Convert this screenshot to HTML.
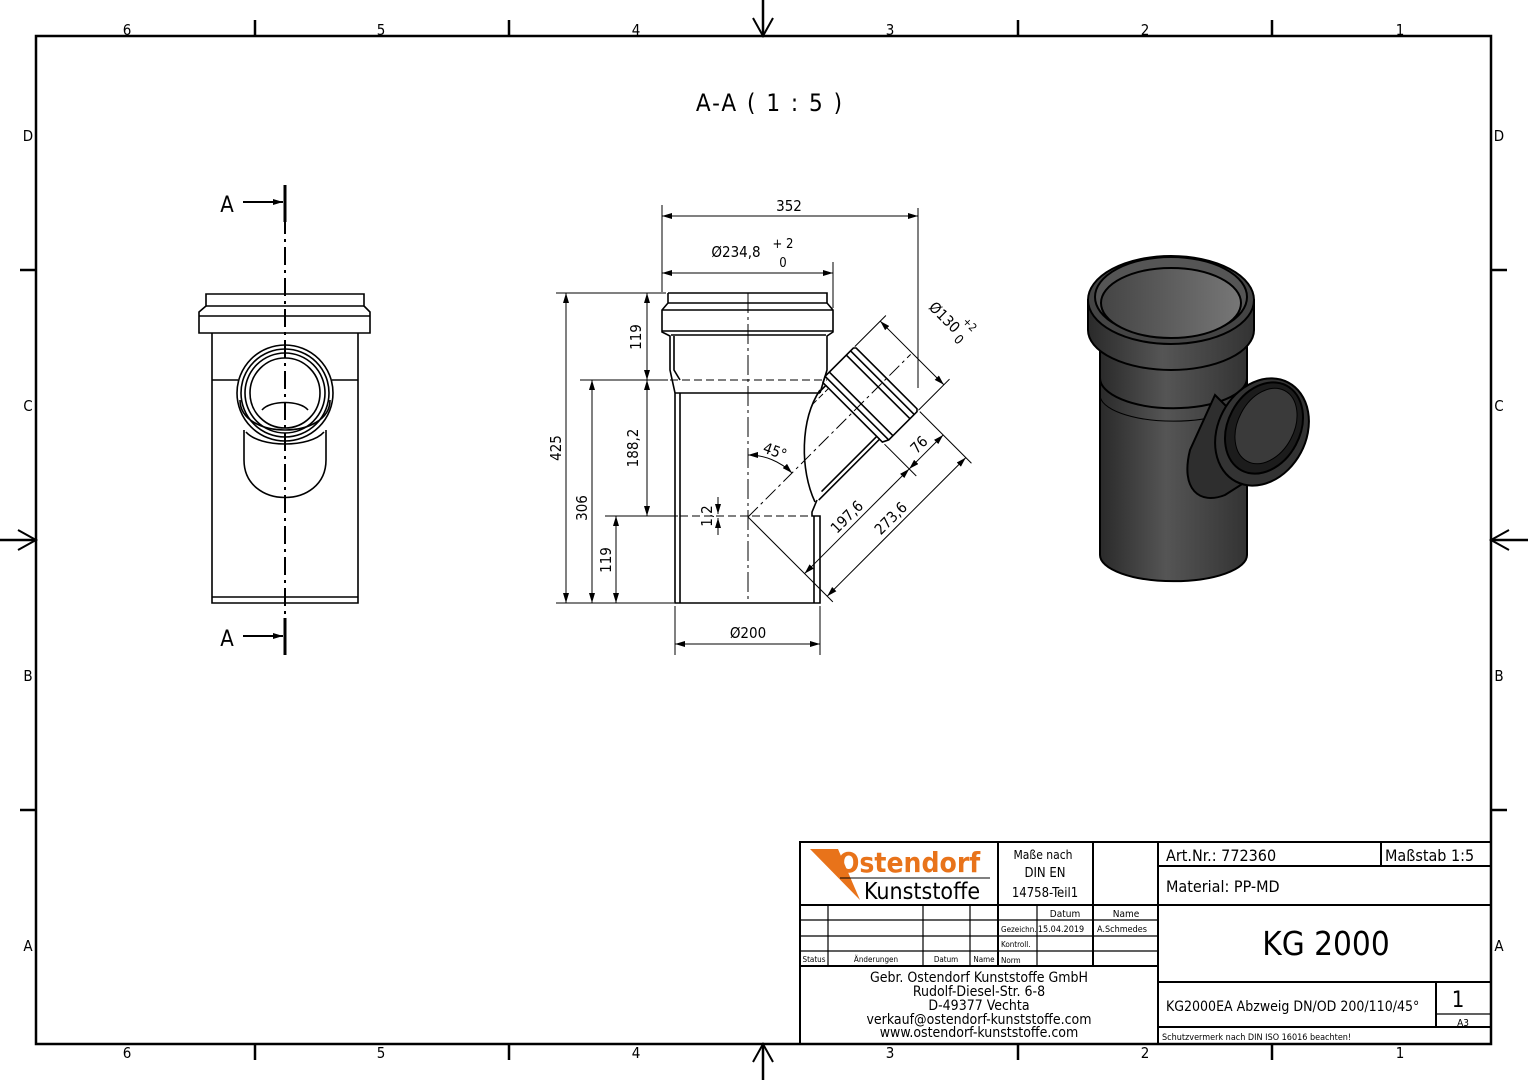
<!DOCTYPE html>
<html><head><meta charset="utf-8"><style>
html,body{margin:0;padding:0;background:#fff}
svg{display:block}
text{font-family:"DejaVu Sans Condensed","Liberation Sans Narrow","Liberation Sans",sans-serif;fill:#000}
</style></head><body>
<svg width="1528" height="1080" viewBox="0 0 1528 1080" xmlns="http://www.w3.org/2000/svg">
<defs>
<linearGradient id="g1" x1="0" x2="1" y1="0" y2="0">
<stop offset="0" stop-color="#2a2a2a"/><stop offset="0.45" stop-color="#555"/><stop offset="1" stop-color="#333"/>
</linearGradient>
<linearGradient id="g2" x1="0" x2="1" y1="0" y2="0">
<stop offset="0" stop-color="#444"/><stop offset="1" stop-color="#777"/>
</linearGradient>
<marker id="ar" viewBox="0 0 10 6" refX="10" refY="3" markerWidth="10" markerHeight="6" orient="auto-start-reverse" markerUnits="userSpaceOnUse">
<path d="M0,0 L10,3 L0,6 z" fill="#000"/></marker>
</defs>

<!-- frame -->
<rect x="36" y="36" width="1455" height="1008" fill="none" stroke="#000" stroke-width="2.5"/>
<g stroke="#000" stroke-width="2.5">
<line x1="255" y1="20" x2="255" y2="36"/><line x1="509" y1="20" x2="509" y2="36"/><line x1="1018" y1="20" x2="1018" y2="36"/><line x1="1272" y1="20" x2="1272" y2="36"/>
<line x1="255" y1="1044" x2="255" y2="1060"/><line x1="509" y1="1044" x2="509" y2="1060"/><line x1="1018" y1="1044" x2="1018" y2="1060"/><line x1="1272" y1="1044" x2="1272" y2="1060"/>
<line x1="20" y1="270" x2="36" y2="270"/><line x1="20" y1="810" x2="36" y2="810"/>
<line x1="1491" y1="270" x2="1507" y2="270"/><line x1="1491" y1="810" x2="1507" y2="810"/>
<line x1="763" y1="0" x2="763" y2="36"/><line x1="763" y1="1044" x2="763" y2="1080"/>
<line x1="0" y1="540" x2="36" y2="540"/><line x1="1491" y1="540" x2="1528" y2="540"/>
</g>
<g fill="none" stroke="#000" stroke-width="2">
<path d="M753,18 L763,36 L773,18"/><path d="M753,1062 L763,1044 L773,1062"/>
<path d="M18,530 L36,540 L18,550"/><path d="M1509,530 L1491,540 L1509,550"/>
</g>
<g font-size="15" text-anchor="middle">
<text x="127" y="35">6</text><text x="381" y="35">5</text><text x="636" y="35">4</text><text x="890" y="35">3</text><text x="1145" y="35">2</text><text x="1400" y="35">1</text>
<text x="127" y="1058">6</text><text x="381" y="1058">5</text><text x="636" y="1058">4</text><text x="890" y="1058">3</text><text x="1145" y="1058">2</text><text x="1400" y="1058">1</text>
<text x="28" y="141">D</text><text x="28" y="411">C</text><text x="28" y="681">B</text><text x="28" y="951">A</text>
<text x="1499" y="141">D</text><text x="1499" y="411">C</text><text x="1499" y="681">B</text><text x="1499" y="951">A</text>
</g>

<text x="770" y="111" font-size="24" text-anchor="middle" letter-spacing="2">A-A ( 1 : 5 )</text>

<!-- left view -->
<g fill="none" stroke="#000" stroke-width="1.6">
<path d="M212,333 L212,603 L358,603 L358,333"/>
<line x1="212" y1="597" x2="358" y2="597"/>
<path d="M206,294 L364,294 L364,306 L370,312 L370,333 L199,333 L199,312 L206,306 Z"/>
<line x1="199" y1="316" x2="370" y2="316"/><line x1="206" y1="306" x2="364" y2="306"/>
<line x1="212" y1="380" x2="238" y2="380"/><line x1="332" y1="380" x2="358" y2="380"/>
<circle cx="285" cy="393" r="48"/><circle cx="285" cy="393" r="44"/><circle cx="285" cy="393" r="40"/>
<circle cx="285" cy="393" r="35"/>
<path d="M240,400 C240,440 330,440 330,400"/>
<path d="M244,430 L244,460 C244,510 326,510 326,460 L326,430"/>
<path d="M246,432 C260,448 310,448 324,432"/>
<path d="M262,410 C270,400 300,400 308,410"/>
</g>
<line x1="285" y1="185" x2="285" y2="655" stroke="#000" stroke-width="2" stroke-dasharray="18,5,3,5"/>
<line x1="285" y1="185" x2="285" y2="222" stroke="#000" stroke-width="3"/>
<line x1="285" y1="618" x2="285" y2="655" stroke="#000" stroke-width="3"/>
<line x1="243" y1="202" x2="283" y2="202" stroke="#000" stroke-width="2" marker-end="url(#ar)"/>
<line x1="243" y1="636" x2="283" y2="636" stroke="#000" stroke-width="2" marker-end="url(#ar)"/>
<text x="227" y="212" font-size="22" text-anchor="middle">A</text>
<text x="227" y="646" font-size="22" text-anchor="middle">A</text>

<!-- section view -->
<g fill="none" stroke="#000" stroke-width="1.6">
<path d="M668,293 L827,293 L827,303 L833,310 L833,332 L827,336 L827,370 L820,393"/>
<path d="M817,500 L812,512 L812,516 L820,516 L820,603 L675,603 L675,393 L670,370 L670,336 L662,332 L662,310 L668,303 L668,293"/>
<line x1="662" y1="310" x2="833" y2="310"/><line x1="662" y1="331" x2="833" y2="331"/>
<line x1="668" y1="303" x2="827" y2="303"/>
<line x1="671" y1="335" x2="826" y2="335"/>
<line x1="675" y1="393" x2="820" y2="393"/>
<path d="M680,393 L680,603 M814,516 L814,603 M680,380 L674,370 L674,336"/>
<path d="M820,390 C800,420 800,470 815,502"/>
</g>
<g fill="none" stroke="#000" stroke-width="1" stroke-dasharray="8,4">
<line x1="670" y1="380" x2="827" y2="380"/>
<line x1="680" y1="516" x2="814" y2="516"/>
</g>
<line x1="748" y1="293" x2="748" y2="603" stroke="#000" stroke-width="1" stroke-dasharray="20,4,3,4"/>
<!-- branch rotated -->
<g transform="translate(748,517) rotate(-45)">
<g fill="none" stroke="#000" stroke-width="1.6">
<path d="M140,-38 L148,-38 L148,-42 L154,-45 L194,-45 L196,-43 L196,43 L194,45 L154,45 L148,42 L148,38 L62,38"/>
<line x1="154" y1="-45" x2="154" y2="45"/><line x1="160" y1="-45" x2="160" y2="45"/>
<line x1="184" y1="-45" x2="184" y2="45"/><line x1="190" y1="-45" x2="190" y2="45"/>
<line x1="148" y1="-38" x2="148" y2="38"/>
<line x1="70" y1="34" x2="148" y2="34"/>
</g>
<line x1="0" y1="0" x2="230" y2="0" stroke="#000" stroke-width="1" stroke-dasharray="14,4,3,4"/>
<line x1="125" y1="-34" x2="148" y2="-34" stroke="#000" stroke-width="1" stroke-dasharray="6,3"/>
<!-- dims -->
<g stroke="#000" stroke-width="1" fill="none">
<line x1="196" y1="47" x2="196" y2="120"/>
<line x1="148" y1="45" x2="148" y2="90"/>
<line x1="0" y1="0" x2="0" y2="120"/>
<line x1="0" y1="80" x2="148" y2="80" marker-start="url(#ar)" marker-end="url(#ar)"/>
<line x1="148" y1="80" x2="196" y2="80" marker-start="url(#ar)" marker-end="url(#ar)"/>
<line x1="0" y1="112" x2="196" y2="112" marker-start="url(#ar)" marker-end="url(#ar)"/>
<line x1="196" y1="-45" x2="240" y2="-45"/><line x1="196" y1="45" x2="240" y2="45"/>
<line x1="232" y1="-45" x2="232" y2="45" marker-start="url(#ar)" marker-end="url(#ar)"/>
</g>
<text x="70" y="75" font-size="15" text-anchor="middle">197,6</text>
<text x="172" y="75" font-size="15" text-anchor="middle">76</text>
<text x="100" y="107" font-size="15" text-anchor="middle">273,6</text>
</g>
<text transform="translate(928,308) rotate(45)" font-size="15">Ø130</text>
<text transform="translate(962,322) rotate(45)" font-size="11">+2</text>
<text transform="translate(953,340) rotate(45)" font-size="13">0</text>
<!-- 45 angle -->
<path d="M748,455 A62,62 0 0 1 792,473" fill="none" stroke="#000" stroke-width="1" marker-start="url(#ar)" marker-end="url(#ar)"/>
<text transform="translate(762,452) rotate(20)" font-size="15">45°</text>
<!-- linear dims -->
<g stroke="#000" stroke-width="1" fill="none">
<line x1="662" y1="205" x2="662" y2="292"/><line x1="918" y1="208" x2="918" y2="388"/>
<line x1="662" y1="216" x2="918" y2="216" marker-start="url(#ar)" marker-end="url(#ar)"/>
<line x1="833" y1="262" x2="833" y2="308"/>
<line x1="662" y1="273" x2="833" y2="273" marker-start="url(#ar)" marker-end="url(#ar)"/>
<line x1="675" y1="606" x2="675" y2="655"/><line x1="820" y1="606" x2="820" y2="655"/>
<line x1="675" y1="644" x2="820" y2="644" marker-start="url(#ar)" marker-end="url(#ar)"/>
<line x1="556" y1="293" x2="666" y2="293"/><line x1="556" y1="603" x2="674" y2="603"/>
<line x1="580" y1="380" x2="668" y2="380"/><line x1="605" y1="516" x2="678" y2="516"/>
<line x1="566" y1="293" x2="566" y2="603" marker-start="url(#ar)" marker-end="url(#ar)"/>
<line x1="592" y1="380" x2="592" y2="603" marker-start="url(#ar)" marker-end="url(#ar)"/>
<line x1="616" y1="516" x2="616" y2="603" marker-start="url(#ar)" marker-end="url(#ar)"/>
<line x1="647" y1="293" x2="647" y2="380" marker-start="url(#ar)" marker-end="url(#ar)"/>
<line x1="647" y1="380" x2="647" y2="516" marker-start="url(#ar)" marker-end="url(#ar)"/>
<line x1="718" y1="497" x2="718" y2="514" marker-end="url(#ar)"/>
<line x1="718" y1="535" x2="718" y2="518" marker-end="url(#ar)"/>
</g>
<g font-size="15" text-anchor="middle">
<text x="789" y="211">352</text>
<text x="736" y="257">Ø234,8</text><text x="783" y="248" font-size="13">+ 2</text><text x="783" y="267" font-size="13">0</text>
<text x="748" y="638">Ø200</text>
<text transform="translate(561,448) rotate(-90)">425</text>
<text transform="translate(587,508) rotate(-90)">306</text>
<text transform="translate(611,560) rotate(-90)">119</text>
<text transform="translate(641,337) rotate(-90)">119</text>
<text transform="translate(638,448) rotate(-90)">188,2</text>
<text transform="translate(712,516) rotate(-90)">1,2</text>
</g>

<!-- 3D render -->
<g stroke="#000" stroke-width="2">
<path d="M1100,335 L1100,555 A73,26 0 0 0 1247,555 L1247,335 Z" fill="url(#g1)"/>
<path d="M1100,345 L1100,378 A73,30 0 0 0 1247,378 L1247,345 Z" fill="url(#g1)"/>
<path d="M1088,300 L1088,330 A83,40 0 0 0 1254,330 L1254,300 Z" fill="url(#g1)"/>
<ellipse cx="1171" cy="300" rx="83" ry="44" fill="#444"/>
<ellipse cx="1171" cy="297" rx="76" ry="40" fill="#555"/>
<ellipse cx="1171" cy="303" rx="70" ry="35" fill="url(#g2)"/>
<path d="M1100,395 A73,26 0 0 0 1247,395" fill="none" stroke-width="1"/>
<path d="M1215,395 L1190,450 C1180,490 1200,505 1225,495 L1280,460 Z" fill="#2e2e2e"/>
<ellipse cx="1262" cy="432" rx="44" ry="56" transform="rotate(28 1262 432)" fill="#333"/>
<ellipse cx="1264" cy="428" rx="36" ry="48" transform="rotate(28 1264 428)" fill="#1c1c1c"/>
<ellipse cx="1266" cy="426" rx="28" ry="40" transform="rotate(28 1266 426)" fill="#3a3a3a" stroke-width="1"/>
</g>

<!-- title block -->
<g fill="none" stroke="#000" stroke-width="2">
<rect x="800" y="842" width="691" height="202"/>
<line x1="1158" y1="842" x2="1158" y2="1044"/>
<line x1="998" y1="842" x2="998" y2="966"/><line x1="1093" y1="842" x2="1093" y2="966"/>
<line x1="800" y1="905" x2="1158" y2="905"/>
<line x1="800" y1="966" x2="1158" y2="966"/>
<line x1="1158" y1="866" x2="1491" y2="866"/><line x1="1381" y1="842" x2="1381" y2="866"/>
<line x1="1158" y1="905" x2="1491" y2="905"/>
<line x1="1158" y1="982" x2="1491" y2="982"/>
<line x1="1158" y1="1027" x2="1491" y2="1027"/>
<line x1="1436" y1="982" x2="1436" y2="1027"/>
</g>
<g fill="none" stroke="#000" stroke-width="1.2">
<line x1="800" y1="920" x2="1158" y2="920"/><line x1="800" y1="936" x2="1158" y2="936"/><line x1="800" y1="951" x2="1158" y2="951"/>
<line x1="828" y1="905" x2="828" y2="966"/><line x1="923" y1="905" x2="923" y2="966"/><line x1="970" y1="905" x2="970" y2="966"/>
<line x1="1037" y1="905" x2="1037" y2="966"/>
<line x1="1436" y1="1014" x2="1491" y2="1014"/>
</g>
<path d="M810,849 L838,849 L860,900 Z" fill="#e8731a"/>
<text x="838" y="872" font-size="28" font-weight="bold" style="fill:#e8731a" font-family="Liberation Sans">Ostendorf</text>
<line x1="840" y1="878" x2="990" y2="878" stroke="#000" stroke-width="1"/>
<text x="864" y="899" font-size="23" font-family="Liberation Sans">Kunststoffe</text>
<g text-anchor="middle">
<text x="1043" y="859" font-size="12">Maße nach</text>
<text x="1045" y="877" font-size="13">DIN EN</text>
<text x="1045" y="897" font-size="13">14758-Teil1</text>
<text x="1065" y="917" font-size="10">Datum</text><text x="1126" y="917" font-size="10">Name</text>
<text x="1061" y="932" font-size="9">15.04.2019</text><text x="1122" y="932" font-size="9">A.Schmedes</text>
<text x="814" y="962" font-size="8">Status</text><text x="876" y="962" font-size="8">Änderungen</text>
<text x="946" y="962" font-size="8">Datum</text><text x="984" y="962" font-size="8">Name</text>
<text x="979" y="982" font-size="14">Gebr. Ostendorf Kunststoffe GmbH</text>
<text x="979" y="996" font-size="14">Rudolf-Diesel-Str. 6-8</text>
<text x="979" y="1010" font-size="14">D-49377 Vechta</text>
<text x="979" y="1024" font-size="14">verkauf@ostendorf-kunststoffe.com</text>
<text x="979" y="1037" font-size="14">www.ostendorf-kunststoffe.com</text>
<text x="1326" y="955" font-size="33">KG 2000</text>
<text x="1458" y="1007" font-size="22">1</text>
<text x="1463" y="1026" font-size="10">A3</text>
</g>
<g font-size="8"><text x="1001" y="932">Gezeichn.</text><text x="1001" y="947">Kontroll.</text><text x="1001" y="963">Norm</text></g>
<text x="1166" y="861" font-size="16">Art.Nr.: 772360</text>
<text x="1385" y="861" font-size="16">Maßstab 1:5</text>
<text x="1166" y="892" font-size="16">Material: PP-MD</text>
<text x="1166" y="1011" font-size="14">KG2000EA Abzweig DN/OD 200/110/45°</text>
<text x="1162" y="1040" font-size="9">Schutzvermerk nach DIN ISO 16016 beachten!</text>
</svg>
</body></html>
